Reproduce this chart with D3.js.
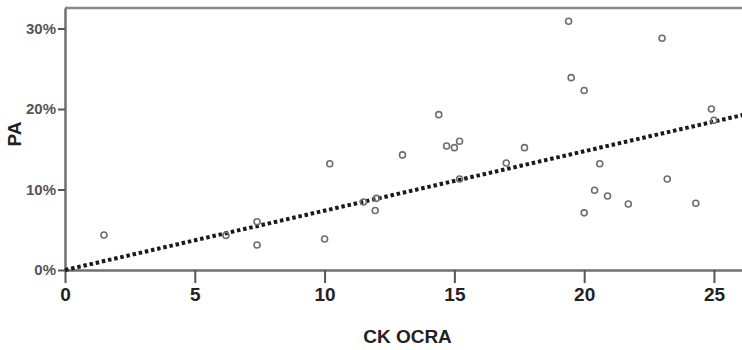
<!DOCTYPE html>
<html>
<head>
<meta charset="utf-8">
<script src="https://cdn.jsdelivr.net/npm/d3@7"></script>
<style>
  html, body { margin: 0; padding: 0; background: #fff; }
  svg { display: block; font-family: 'Liberation Sans Narrow', 'Arial Narrow', 'Liberation Sans', sans-serif; }
</style>
</head>
<body>
<svg id="chart" width="742" height="350"></svg>
<script>
// CK OCRA score vs PA (%)
const ckOcra = [1.5, 6.2, 7.4, 7.4, 10.0, 10.2, 11.5, 12.0, 11.95, 13.0, 14.4, 14.7, 15.0, 15.2, 15.2,
  17.0, 17.7, 19.4, 19.5, 20.0, 20.6, 23.0, 24.9, 25.0, 20.0, 20.4, 20.9, 21.7, 23.2, 24.3];
const paPct = [4.35, 4.3, 6.0, 3.1, 3.85, 13.2, 8.45, 8.9, 7.4, 14.3, 19.3, 15.4, 15.2, 16.0, 11.3,
  13.3, 15.2, 30.9, 23.9, 22.3, 13.2, 28.8, 20.0, 18.6, 7.1, 9.9, 9.2, 8.2, 11.3, 8.3];
const xTicks = [0, 5, 10, 15, 20, 25];
const yTicks = [0, 10, 20, 30];
// fitted line through origin
const fitLine = [[0, 0], [26.1, 19.25]];

const svg = d3.select('#chart');
const margin = { left: 65, top: 8, right: 0, bottom: 80 };
const width = 742, height = 350;

const x = d3.scaleLinear().domain([0, 26.08]).range([margin.left, width - margin.right]);
const y = d3.scaleLinear().domain([0, 32.55]).range([height - margin.bottom, margin.top]);

// top frame line
svg.append('line')
  .attr('x1', margin.left).attr('x2', width)
  .attr('y1', margin.top).attr('y2', margin.top)
  .attr('stroke', '#8a8a8a').attr('stroke-width', 2.5);

// x axis
const xAxis = svg.append('g')
  .attr('transform', `translate(0,${y(0)})`)
  .call(d3.axisBottom(x).tickValues(xTicks).tickSize(13).tickPadding(5).tickSizeOuter(0));
xAxis.select('.domain').attr('stroke', '#707070').attr('stroke-width', 2.5);
xAxis.selectAll('.tick line').attr('stroke', '#555').attr('stroke-width', 2);
xAxis.selectAll('.tick text')
  .attr('fill', '#222').attr('font-size', 19).attr('font-weight', 'bold');

// y axis
const yAxis = svg.append('g')
  .attr('transform', `translate(${margin.left},0)`)
  .call(d3.axisLeft(y).tickValues(yTicks).tickFormat(d => d + '%').tickSize(7).tickPadding(2).tickSizeOuter(0));
yAxis.select('.domain').attr('stroke', '#707070').attr('stroke-width', 2.5);
yAxis.selectAll('.tick line').attr('stroke', '#555').attr('stroke-width', 2);
yAxis.selectAll('.tick text')
  .attr('fill', '#555').attr('font-size', 15).attr('font-weight', 'bold');

// fit line, dotted
svg.append('path')
  .datum(fitLine)
  .attr('fill', 'none')
  .attr('stroke', '#1a1a1a')
  .attr('stroke-width', 4)
  .attr('stroke-dasharray', '3.5,2.8')
  .attr('d', d3.line().x(d => x(d[0])).y(d => y(d[1])));

// points
svg.append('g')
  .selectAll('circle')
  .data(ckOcra.map((v, i) => [v, paPct[i]]))
  .join('circle')
  .attr('cx', d => x(d[0]))
  .attr('cy', d => y(d[1]))
  .attr('r', 3)
  .attr('fill', 'none')
  .attr('stroke', '#6e6e6e')
  .attr('stroke-width', 1.6);

// axis titles
svg.append('text')
  .attr('x', (margin.left + width) / 2 + 4)
  .attr('y', 343)
  .attr('text-anchor', 'middle')
  .attr('fill', '#222').attr('font-size', 19).attr('font-weight', 'bold')
  .text('CK OCRA');

svg.append('text')
  .attr('transform', 'translate(21,134) rotate(-90)')
  .attr('text-anchor', 'middle')
  .attr('fill', '#222').attr('font-size', 19).attr('font-weight', 'bold')
  .text('PA');
</script>
</body>
</html>
